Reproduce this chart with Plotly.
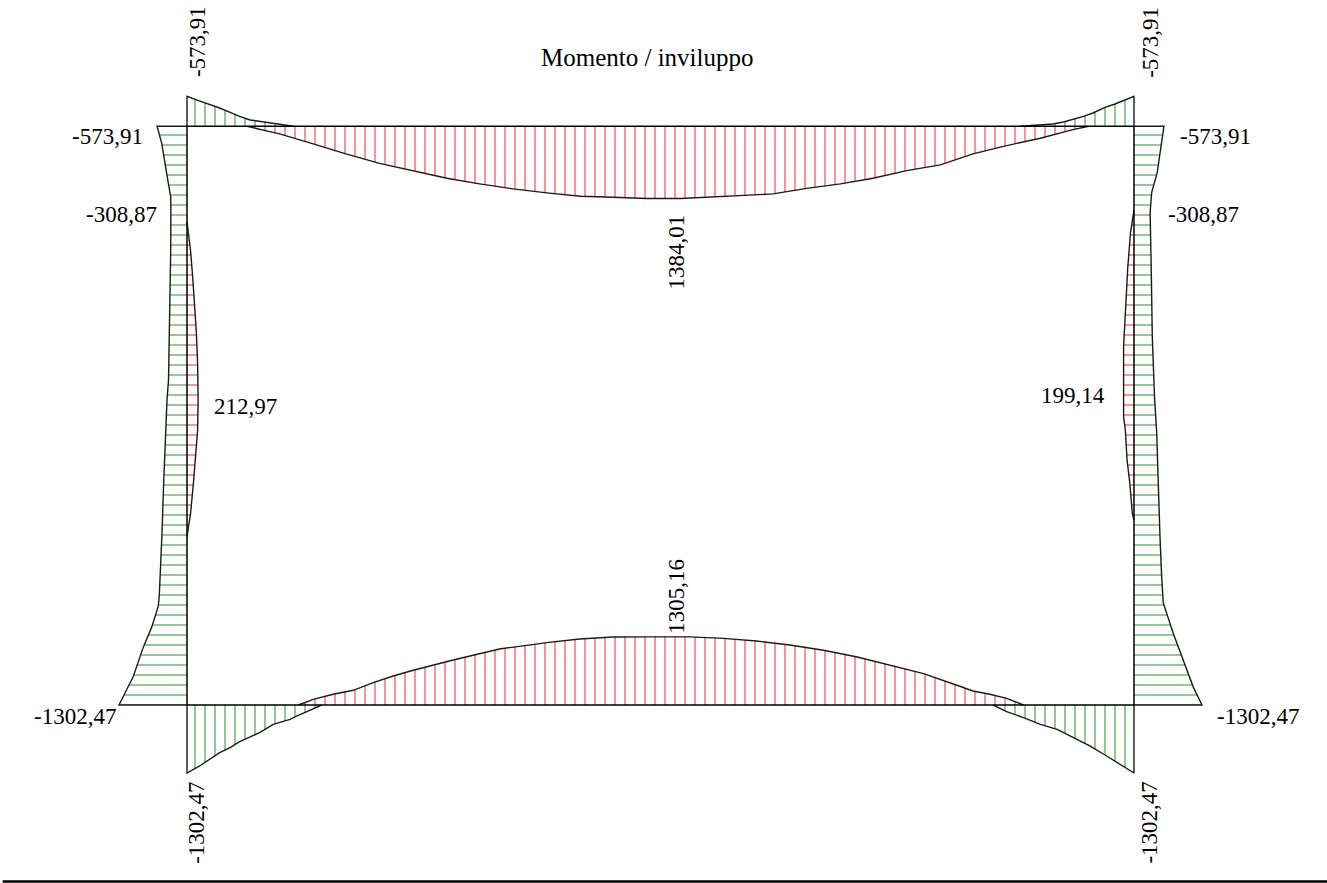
import plotly.graph_objects as go

# ---------------- frame geometry (m) ----------------
L = 9.0   # beam span
H = 5.5   # column height

# ---------------- envelope data (kNm) ----------------
# top beam (stations in m from left node)
top_pos_s = [0.57, 0.88, 1.20, 1.51, 1.83, 2.15, 2.47, 2.78, 3.10, 3.42, 3.74, 4.05, 4.37, 4.69,
             5.10, 5.57, 5.89, 6.21, 6.52, 6.84, 7.16, 7.47, 7.79, 8.11, 8.42, 8.57]
top_pos_m = [0, 146, 337, 529, 709, 849, 996, 1103, 1199, 1276, 1341, 1360, 1384.01, 1384.01,
             1347, 1295, 1188, 1103, 996, 849, 739, 529, 370, 230, 63, 0]
top_negL_s = [0, 0.11, 0.21, 0.31, 0.41, 0.50, 0.60, 0.70, 0.80, 0.89, 1.01]
top_negL_m = [-573.91, -492, -427, -350, -268, -191, -121, -90, -57, -30, 0]
top_negR_s = [7.92, 8.01, 8.23, 8.33, 8.42, 8.52, 8.61, 8.725, 8.82, 8.915, 9.0]
top_negR_m = [0, -13, -44, -82, -128, -191, -255, -364, -427, -498, -573.91]

# bottom beam
bot_pos_s = [1.06, 1.20, 1.39, 1.58, 1.77, 1.96, 2.15, 2.34, 2.53, 2.72, 2.97, 3.23, 3.42, 3.73,
             4.05, 4.37, 4.78, 5.10, 5.41, 5.73, 6.05, 6.37, 6.68, 7.00, 7.31, 7.47, 7.63, 7.79, 7.95]
bot_pos_m = [0, 109, 205, 282, 429, 555, 665, 766, 862, 952, 1073, 1143, 1195, 1264,
             1302, 1305.16, 1305.16, 1277, 1226, 1149, 1048, 919, 766, 601, 383, 268, 205, 128, 0]
bot_negL_s = [0, 0.12, 0.22, 0.31, 0.41, 0.50, 0.69, 0.82, 0.98, 1.04, 1.14, 1.28]
bot_negL_m = [-1302.47, -1168, -1040, -912, -816, -701, -529, -370, -274, -211, -126, 0]
bot_negR_s = [7.66, 7.79, 7.95, 8.11, 8.27, 8.43, 8.58, 8.74, 8.90, 9.0]
bot_negR_m = [0, -126, -241, -370, -465, -624, -785, -977, -1168, -1302.47]

# left column (stations in m from base)
lc_neg_z = [0, 0.27, 0.55, 0.74, 0.94, 1.05, 1.33, 1.63, 2.07, 2.52, 2.90, 3.09, 3.75, 4.32,
            4.70, 4.83, 4.96, 5.15, 5.34, 5.50]
lc_neg_m = [-1302.47, -1029, -837, -676, -550, -530, -504, -479, -450, -421, -383, -354, -326, -312,
            -308.87, -312, -358, -421, -485, -573.91]
lc_pos_z = [1.60, 1.82, 2.11, 2.39, 2.61, 2.90, 3.25, 3.54, 3.75, 4.04, 4.32, 4.59]
lc_pos_m = [0, 68, 123, 169, 203, 212.97, 203, 179, 157, 113, 68, 0]

# right column
rc_neg_z = [0, 0.17, 0.46, 0.68, 0.97, 1.22, 1.60, 1.95, 2.26, 2.59, 2.93, 3.50, 4.16, 4.68,
            4.87, 5.06, 5.50]
rc_neg_m = [-1302.47, -1136, -913, -753, -561, -530, -498, -479, -460, -435, -393, -351, -330,
            -308.87, -339, -445, -573.91]
rc_pos_z = [1.76, 1.82, 2.11, 2.33, 2.61, 2.74, 3.40, 3.75, 4.16, 4.49, 4.70]
rc_pos_m = [0, 32, 80, 133, 165, 199.14, 199.14, 165, 119, 66, 0]

# ---------------- drawing parameters ----------------
PX_PER_M = 105.22                 # screen scale of the frame
K = 0.05221 / PX_PER_M            # m of offset per kNm
GREEN = "rgb(0,128,0)"
RED = "rgb(255,0,0)"
FONT = "Liberation Serif"


def fmt(v):
    return f"{v:.2f}".replace(".", ",")


fig = go.Figure()


def member_poly(origin, tangent, normal, s, m, color, shape):
    ox, oy = origin
    xs = [ox + tangent[0] * s[0]]
    ys = [oy + tangent[1] * s[0]]
    for si, mi in zip(s, m):
        xs.append(ox + tangent[0] * si + normal[0] * K * mi)
        ys.append(oy + tangent[1] * si + normal[1] * K * mi)
    xs.append(ox + tangent[0] * s[-1])
    ys.append(oy + tangent[1] * s[-1])
    fig.add_trace(go.Scatter(
        x=xs, y=ys, mode="lines", fill="toself",
        fillcolor="rgba(0,0,0,0)",
        fillpattern=dict(shape=shape, fgcolor=color, bgcolor="rgba(0,0,0,0)",
                         size=10, solidity=0.17),
        line=dict(color="#1a1a1a", width=1.4), hoverinfo="skip", showlegend=False))


# top beam: origin (0,H), tangent +x, inward normal -y
member_poly((0, H), (1, 0), (0, -1), top_pos_s, top_pos_m, RED, "|")
member_poly((0, H), (1, 0), (0, -1), top_negL_s, top_negL_m, GREEN, "|")
member_poly((0, H), (1, 0), (0, -1), top_negR_s, top_negR_m, GREEN, "|")
# bottom beam: origin (0,0), inward normal +y
member_poly((0, 0), (1, 0), (0, 1), bot_pos_s, bot_pos_m, RED, "|")
member_poly((0, 0), (1, 0), (0, 1), bot_negL_s, bot_negL_m, GREEN, "|")
member_poly((0, 0), (1, 0), (0, 1), bot_negR_s, bot_negR_m, GREEN, "|")
# left column: inward normal +x
member_poly((0, 0), (0, 1), (1, 0), lc_neg_z, lc_neg_m, GREEN, "-")
member_poly((0, 0), (0, 1), (1, 0), lc_pos_z, lc_pos_m, RED, "-")
# right column: inward normal -x
member_poly((L, 0), (0, 1), (-1, 0), rc_neg_z, rc_neg_m, GREEN, "-")
member_poly((L, 0), (0, 1), (-1, 0), rc_pos_z, rc_pos_m, RED, "-")

# frame
fig.add_trace(go.Scatter(x=[0, L, L, 0, 0], y=[0, 0, H, H, 0], mode="lines",
                         line=dict(color="black", width=1.5), hoverinfo="skip", showlegend=False))

# ---------------- labels ----------------
def lab(text, x, y, xanchor="center", angle=0):
    fig.add_annotation(x=x, y=y, xref="x", yref="y", text=text, showarrow=False,
                       xanchor=xanchor, yanchor="middle", textangle=angle,
                       font=dict(family=FONT, size=23, color="black"))


lab(fmt(top_negL_m[0]), 0.095, 6.30, angle=-90)
lab(fmt(top_negR_m[-1]), L + 0.15, 6.30, angle=-90)
lab(fmt(lc_neg_m[-1]), -0.40, 5.40, xanchor="right")
lab(fmt(rc_neg_m[-1]), L + 0.42, 5.40, xanchor="left")
lab(fmt(min(lc_neg_m, key=abs)), -0.27, 4.66, xanchor="right")
lab(fmt(min(rc_neg_m, key=abs)), L + 0.30, 4.66, xanchor="left")
lab(fmt(max(top_pos_m)), 4.657, 4.30, angle=-90)
lab(fmt(max(lc_pos_m)), 0.238, 2.84, xanchor="left")
lab(fmt(max(rc_pos_m)), L - 0.256, 2.94, xanchor="right")
lab(fmt(max(bot_pos_m)), 4.657, 1.03, angle=-90)
lab(fmt(bot_negL_m[0]), -0.656, -0.11, xanchor="right")
lab(fmt(bot_negR_m[-1]), L + 0.77, -0.11, xanchor="left")
lab(fmt(bot_negL_m[0]), 0.095, -1.12, angle=-90)
lab(fmt(bot_negR_m[-1]), L + 0.15, -1.12, angle=-90)

fig.add_annotation(x=647 / 1327, y=1 - 58 / 883, xref="paper", yref="paper",
                   text="Momento / inviluppo", showarrow=False, xanchor="center", yanchor="middle",
                   font=dict(family=FONT, size=25, color="black"))

fig.add_shape(type="line", xref="paper", yref="paper", x0=0.002, x1=1, y0=1 - 881.5 / 883,
              y1=1 - 881.5 / 883, line=dict(color="black", width=2.5))

W, HH = 1327, 883
fig.update_layout(
    width=W, height=HH, margin=dict(l=0, r=0, t=0, b=0),
    paper_bgcolor="white", plot_bgcolor="white", showlegend=False,
    xaxis=dict(range=[-187 / PX_PER_M, (W - 187) / PX_PER_M], visible=False, fixedrange=True),
    yaxis=dict(range=[-(HH - 705) / PX_PER_M, 705 / PX_PER_M], visible=False, fixedrange=True),
)

fig.write_html("out.html", config={"displayModeBar": False},
               post_script="document.body.style.margin='0';document.body.style.overflow='hidden';")
